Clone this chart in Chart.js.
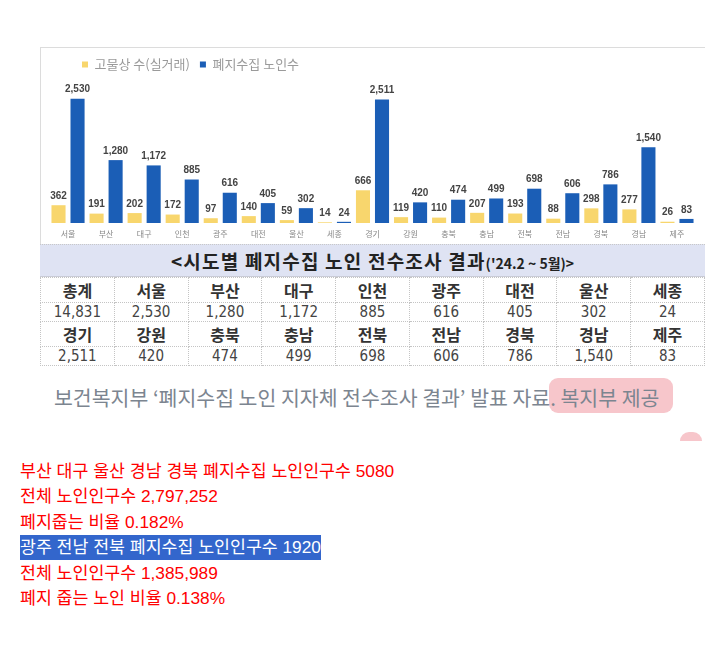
<!DOCTYPE html>
<html>
<head>
<meta charset="utf-8">
<script src="https://cdn.jsdelivr.net/npm/chart.js@4.4.1/dist/chart.umd.min.js"></script>
<style>
  body { margin: 0; background: #fff; width: 721px; height: 646px; position: relative; overflow: hidden; }
  #shot { position: absolute; left: 40px; top: 47px; width: 665px; }
  #chartBox { position: relative; height: 197px; border-top: 1px solid #dcdcdc; border-left: 1px solid #dcdcdc; }
  #band { position: relative; margin-top: -1px; height: 31px; background: #dfe3f3; text-align: center; font: bold 19px "Noto Sans CJK KR", sans-serif; letter-spacing: 1.2px; color: #222; line-height: 31px; border-top: 1px dotted #c8c8c8; border-bottom: 1px solid #c9cbd6; box-sizing: border-box; height: 33px; }
  #band small { font-size: 14px; letter-spacing: 0; }
  table { border-collapse: collapse; width: 665px; table-layout: fixed; }
  td { border: 1px dotted #c4c4c4; text-align: center; padding: 0; height: 18px; line-height: 1; overflow: hidden; }
  td.h { font: bold 16px "Noto Sans CJK KR", sans-serif; color: #333; }
  td.v { font: 15px "Liberation Sans Narrow", "DejaVu Sans Condensed", "Noto Sans CJK KR", sans-serif; color: #444; }
  #caption { position: absolute; left: 54px; top: 382px; font: 20.5px "Noto Sans CJK KR", sans-serif; color: #7c8590; white-space: nowrap; z-index: 2; }
  #mark { position: absolute; left: 549px; top: 378px; width: 124px; height: 35px; background: #f7c6cb; border-radius: 9px; z-index: 1; }
  #blob { position: absolute; left: 680px; top: 432px; width: 22px; height: 9px; background: #f7c6cb; border-radius: 11px 11px 0 0; }
  #notes { position: absolute; left: 20px; top: 459px; font: 17.3px "Liberation Sans", Arial, "Noto Sans CJK KR", sans-serif; color: #ff0000; line-height: 25.4px; }
  #notes .sel { display: inline-block; background: #3366cc; color: #fff; line-height: 25px; }
</style>
</head>
<body>
<div id="shot">
  <div id="chartBox"><canvas id="bar"></canvas></div>
  <div id="band">&lt;시도별 폐지수집 노인 전수조사 결과<small>('24.2 ~ 5월)&gt;</small></div>
  <table id="tbl"></table>
</div>
<div id="mark"></div>
<div id="caption">보건복지부 ‘폐지수집 노인 지자체 전수조사 결과’ 발표 자료. 복지부 제공</div>
<div id="blob"></div>
<div id="notes">
  <div>부산 대구 울산 경남 경북 폐지수집 노인인구수 5080</div>
  <div>전체 노인인구수 2,797,252</div>
  <div>폐지줍는 비율 0.182%</div>
  <div><span class="sel">광주 전남 전북 폐지수집 노인인구수 1920</span></div>
  <div>전체 노인인구수 1,385,989</div>
  <div>폐지 줍는 노인 비율 0.138%</div>
</div>
<script>
const regions = ['서울','부산','대구','인천','광주','대전','울산','세종','경기','강원','충북','충남','전북','전남','경북','경남','제주'];
const scrapShops = [362,191,202,172,97,140,59,14,666,119,110,207,193,88,298,277,26];
const collectors = [2530,1280,1172,885,616,405,302,24,2511,420,474,499,698,606,786,1540,83];
const totalCollectors = 14831;

// table under the chart
const fmt = n => n.toLocaleString('en-US');
const rowNames = [['총계'].concat(regions.slice(0, 8)), regions.slice(8)];
const rowVals = [[totalCollectors].concat(collectors.slice(0, 8)), collectors.slice(8)];
let html = '';
for (let r = 0; r < 2; r++) {
  html += '<tr>' + rowNames[r].map(n => '<td class="h">' + n + '</td>').join('') + '</tr>';
  html += '<tr>' + rowVals[r].map(v => '<td class="v">' + fmt(v) + '</td>').join('') + '</tr>';
}
document.getElementById('tbl').innerHTML = html;

// value labels above the bars
const barValues = {
  id: 'barValues',
  afterDatasetsDraw(chart) {
    const ctx = chart.ctx;
    ctx.save();
    ctx.font = 'bold 10px "Liberation Sans", Arial, sans-serif';
    ctx.fillStyle = '#444';
    ctx.textAlign = 'center';
    ctx.textBaseline = 'bottom';
    chart.data.datasets.forEach((ds, i) => {
      chart.getDatasetMeta(i).data.forEach((bar, j) => {
        ctx.fillText(fmt(ds.data[j]), bar.x, bar.y - 4);
      });
    });
    ctx.restore();
  }
};

// push the legend a bit to the right like the original
const legendShift = {
  id: 'legendShift',
  afterLayout(chart) { chart.legend.left += 23; }
};

const ctx = document.getElementById('bar');
new Chart(ctx, {
  type: 'bar',
  data: {
    labels: regions,
    datasets: [
      { label: '고물상 수(실거래)', data: scrapShops, backgroundColor: '#f8d66d' },
      { label: '폐지수집 노인수', data: collectors, backgroundColor: '#1b5eb6' }
    ]
  },
  options: {
    responsive: true,
    maintainAspectRatio: false,
    animation: false,
    layout: { padding: { left: 8, right: 9, top: 0, bottom: 0 } },
    datasets: { bar: { categoryPercentage: 1.0, barPercentage: 0.74 } },
    plugins: {
      legend: {
        align: 'start',
        labels: {
          boxWidth: 6, boxHeight: 6, padding: 10, color: '#9a9a9a',
          font: { size: 13, family: '"Noto Sans CJK KR", sans-serif' }
        }
      },
      tooltip: { enabled: false }
    },
    scales: {
      x: {
        grid: { display: false, drawTicks: false },
        border: { display: false },
        ticks: { color: '#888', padding: 7, font: { size: 8, lineHeight: 1, family: '"Noto Sans CJK KR", sans-serif' } }
      },
      y: { display: false, min: 0, max: 2890 }
    }
  },
  plugins: [barValues, legendShift]
});
</script>
</body>
</html>
